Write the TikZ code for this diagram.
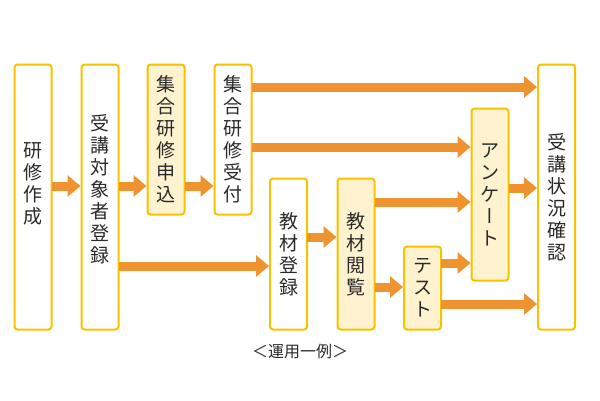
\documentclass[tikz,border=0pt]{standalone}
\usepackage{fontspec}
\setmainfont{Noto Sans CJK JP}
\newfontfamily\tatefont[RawFeature=+vert]{Noto Sans CJK JP}
\usetikzlibrary{arrows.meta}
\definecolor{waku}{HTML}{F7C200}
\definecolor{nuri}{HTML}{FFF2CE}
\definecolor{ya}{HTML}{EE9330}
\definecolor{moji}{HTML}{2A2A2A}
\tikzset{
	box/.style={draw=waku,line width=2pt,rounded corners=3pt,fill=white,
		minimum width=37pt,inner sep=0pt,outer sep=0pt,text=moji,align=center,
		font=\fontsize{19pt}{22pt}\selectfont},
	hl/.style={box,fill=nuri},
	lift/.style={text depth=#1},
	flow/.style={draw=ya,line width=9pt,-{Triangle[length=13pt,width=21pt]},shorten >=1pt}
}
\newcommand{\chobo}{{\tatefont ー}}

\begin{document}
\begin{tikzpicture}[x=1pt,y=-1pt]
	\useasboundingbox[fill=white] (0,0) rectangle (600,400);
	%boxes
	\node[box,lift=27pt,minimum height=265pt] (sakusei) at (33,197) {研\\修\\作\\成};
	\node[box,lift=17pt,minimum height=265pt] (taisho) at (100,197) {受\\講\\対\\象\\者\\登\\録};
	\node[hl,minimum height=150pt] (moushikomi) at (166,139.5) {集\\合\\研\\修\\申\\込};
	\node[box,minimum height=150pt] (uketsuke) at (233,139.5) {集\\合\\研\\修\\受\\付};
	\node[box,minimum height=151pt] (kyozai) at (288.5,254) {教\\材\\登\\録};
	\node[hl,minimum height=151pt] (etsuran) at (356,254) {教\\材\\閲\\覧};
	\node[hl,minimum height=83pt] (test) at (422.5,288) {テ\\ス\\ト};
	\node[hl,minimum height=172pt] (enquete) at (490,194.5) {ア\\ン\\ケ\\\chobo\\ト};
	\node[box,minimum height=265pt] (jokyo) at (556.5,197) {受\\講\\状\\況\\確\\認};
	%arrows
	\foreach \a/\b/\y in {
		sakusei/taisho/186,
		taisho/moushikomi/186,
		moushikomi/uketsuke/186,
		uketsuke/jokyo/87,
		uketsuke/enquete/147,
		taisho/kyozai/266,
		kyozai/etsuran/237,
		etsuran/enquete/202,
		etsuran/test/287,
		test/enquete/263,
		test/jokyo/304,
		enquete/jokyo/188
	}
	\draw[flow] (\a.east |- 0,\y) -- (\b.west |- 0,\y);
	%caption
	\node[text=moji,font=\fontsize{16pt}{18pt}\selectfont] (rei) at (300,351) {＜運用一例＞};
\end{tikzpicture}
\end{document}
